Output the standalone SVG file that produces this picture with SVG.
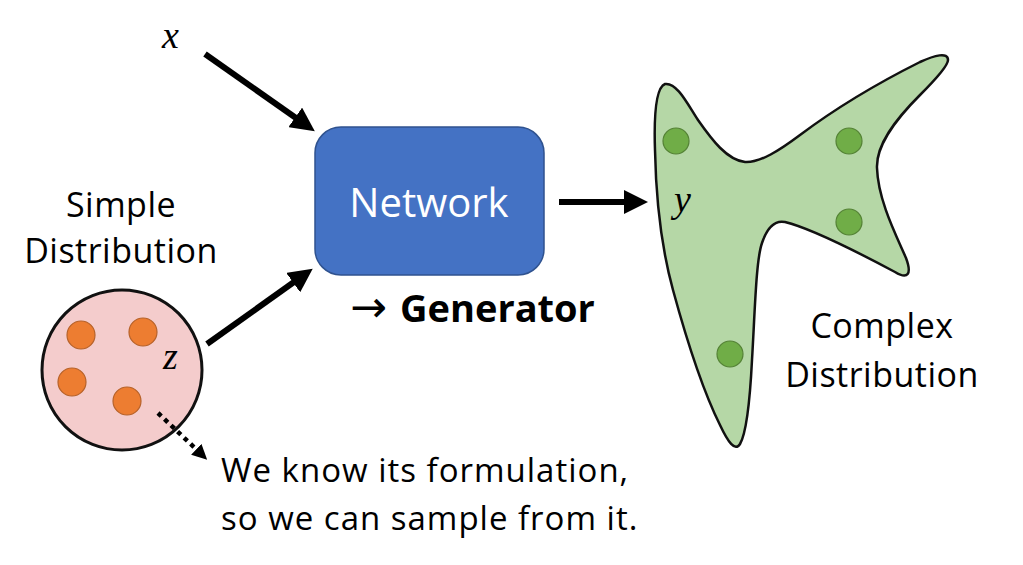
<svg xmlns="http://www.w3.org/2000/svg" width="1023" height="565" viewBox="0 0 1023 565">
<style>
.t{font-family:"Open Sans","Liberation Sans",sans-serif;fill:#000}
.m{font-family:"Liberation Serif","DejaVu Serif",serif;font-style:italic;fill:#000}
.conn{stroke:#000;stroke-width:6;fill:none}
.orange{fill:#ED7D31;stroke:#B6622A;stroke-width:1.2}
.green{fill:#70AD47;stroke:#548235;stroke-width:1.2}
</style>
<defs>
<marker id="ah" markerUnits="userSpaceOnUse" markerWidth="24" markerHeight="24" viewBox="0 0 24 24" refX="1" refY="12" orient="auto">
<path d="M0,0 L24,12 L0,24 Z" fill="#000"/>
</marker>
<marker id="ahs" markerUnits="userSpaceOnUse" markerWidth="15" markerHeight="15" viewBox="0 0 15 15" refX="1" refY="7.5" orient="auto">
<path d="M0,0 L15,7.5 L0,15 Z" fill="#000"/>
</marker>
</defs>
<rect width="1023" height="565" fill="#fff"/>

<g id="simple-distribution">
<circle cx="122" cy="370" r="80" fill="#F4CCCC" stroke="#111" stroke-width="3"/>
<circle class="orange" cx="81" cy="335" r="14"/>
<circle class="orange" cx="143" cy="332" r="14"/>
<circle class="orange" cx="72" cy="382" r="14"/>
<circle class="orange" cx="127" cy="401" r="14"/>
<text class="m" x="163" y="369" font-size="38">z</text>
<text class="t" x="121" y="217" font-size="34" letter-spacing="0.5" text-anchor="middle">Simple</text>
<text class="t" x="121" y="263" font-size="34" letter-spacing="0.5" text-anchor="middle">Distribution</text>
</g>

<g id="x-input">
<text class="m" x="162" y="48" font-size="38">x</text>
</g>

<g id="network">
<rect x="315" y="127" width="229" height="148" rx="26" ry="26" fill="#4472C4" stroke="#2F528F" stroke-width="1.5"/>
<text x="429" y="217" font-size="40" text-anchor="middle" style="font-family:'Open Sans','Liberation Sans',sans-serif;fill:#fff">Network</text>
<text class="t" x="350" y="322" font-size="38"><tspan font-family="DejaVu Sans" font-size="44">→</tspan><tspan font-weight="bold" x="400">Generator</tspan></text>
</g>

<g id="complex-distribution">
<path d="M665,84 C655,88 654,120 655,150 C656,200 662,250 673,290 C688,345 705,395 720,425 C728,442 735,452 740,444 C747,432 750,400 752,360 C755,310 756,260 762,243 C767,228 775,220 785,222 C810,228 850,248 895,272 C908,280 912,274 906,258 C896,235 878,200 877,168 C876,145 895,120 920,95 C935,80 948,66 948,60 C948,52 935,55 920,62 C880,82 840,105 800,135 C780,150 760,163 745,162 C727,160 712,140 698,120 C688,105 677,82 665,84 Z" fill="#B5D7A6" stroke="#111" stroke-width="2.5"/>
<circle class="green" cx="676" cy="141" r="13"/>
<circle class="green" cx="849" cy="141" r="13"/>
<circle class="green" cx="849" cy="222" r="13"/>
<circle class="green" cx="730" cy="354" r="13"/>
<text class="m" x="674" y="212" font-size="38">y</text>
<text class="t" x="882" y="338" font-size="34" letter-spacing="0.5" text-anchor="middle">Complex</text>
<text class="t" x="882" y="387" font-size="34" letter-spacing="0.5" text-anchor="middle">Distribution</text>
</g>

<g id="note">
<text class="t" x="221" y="482" font-size="33" letter-spacing="1">We know its formulation,</text>
<text class="t" x="221" y="530" font-size="33" letter-spacing="1">so we can sample from it.</text>
</g>

<g id="connectors">
<line class="conn" x1="205" y1="54" x2="296" y2="118" marker-end="url(#ah)"/>
<line class="conn" x1="207" y1="344" x2="294" y2="282" marker-end="url(#ah)"/>
<line class="conn" x1="559" y1="202" x2="625" y2="202" marker-end="url(#ah)"/>
<line x1="158" y1="413" x2="197" y2="450" stroke="#000" stroke-width="4.5" stroke-dasharray="4.5 4.5" marker-end="url(#ahs)"/>
</g>
</svg>
